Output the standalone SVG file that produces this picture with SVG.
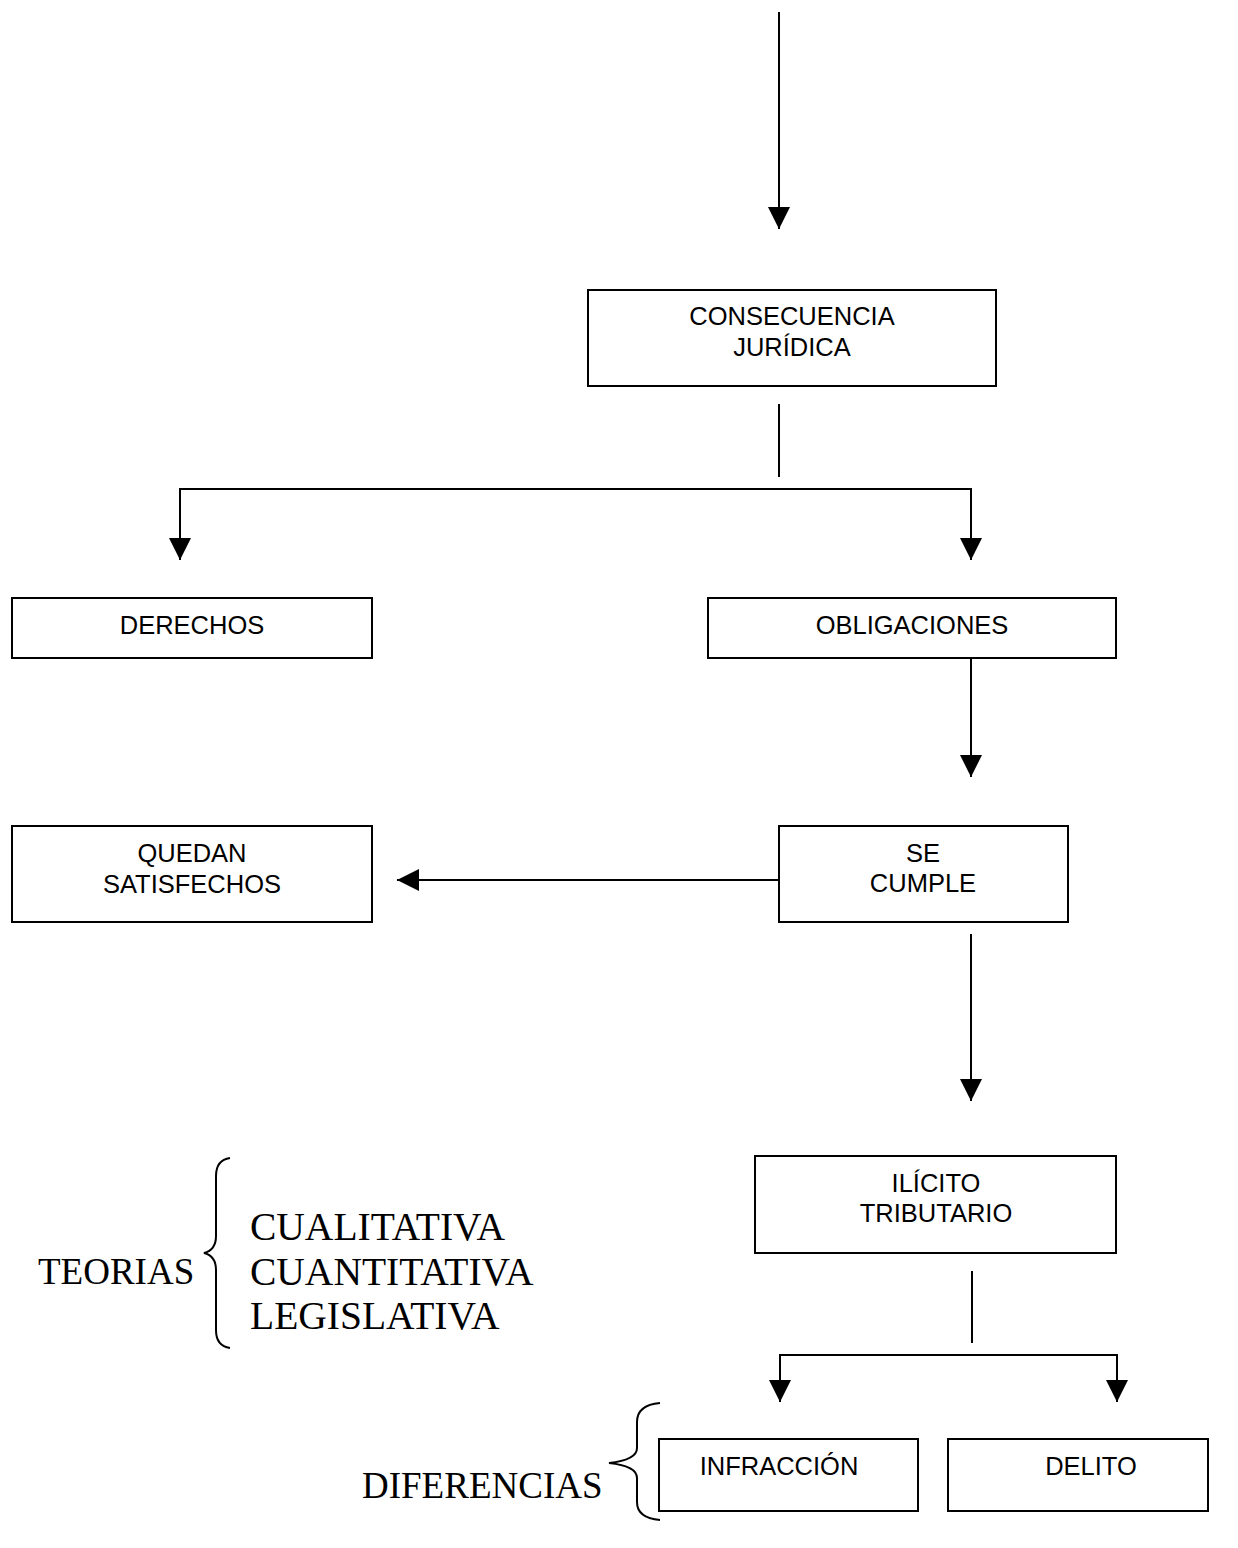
<svg xmlns="http://www.w3.org/2000/svg" width="1238" height="1548" viewBox="0 0 1238 1548">
  <style>
    .box { fill: #ffffff; stroke: #000000; stroke-width: 2; }
    .lbl { font-family: "Liberation Sans", Arial, sans-serif; font-size: 25.5px; fill: #000000; text-anchor: middle; }
    .serif { font-family: "Liberation Serif", "Times New Roman", serif; font-size: 37px; fill: #000000; }
    .item { font-size: 39.5px; }
    .wire { fill: none; stroke: #000000; stroke-width: 2; }
    .arrow { fill: none; stroke: #000000; stroke-width: 2; marker-end: url(#head); }
    .brace { fill: none; stroke: #000000; stroke-width: 2; }
  </style>
  <defs>
    <marker id="head" markerUnits="userSpaceOnUse" markerWidth="22" markerHeight="22" viewBox="0 0 20 20" refX="20" refY="10" orient="auto">
      <path d="M0,0 L20,10 L0,20 Z" fill="#000000"/>
    </marker>
  </defs>

  <!-- connectors -->
  <g id="connectors">
    <line class="arrow" x1="779" y1="12" x2="779" y2="229"/>
    <line class="wire" x1="779" y1="404" x2="779" y2="477"/>
    <polyline class="wire" points="180,540 180,489 971,489 971,540"/>
    <line class="arrow" x1="180" y1="489" x2="180" y2="560"/>
    <line class="arrow" x1="971" y1="489" x2="971" y2="560"/>
    <line class="arrow" x1="971" y1="657" x2="971" y2="777"/>
    <line class="arrow" x1="779" y1="880" x2="397" y2="880"/>
    <line class="arrow" x1="971" y1="934" x2="971" y2="1101"/>
    <line class="wire" x1="972" y1="1271" x2="972" y2="1343"/>
    <polyline class="wire" points="780,1385 780,1355 1117,1355 1117,1385"/>
    <line class="arrow" x1="780" y1="1355" x2="780" y2="1402"/>
    <line class="arrow" x1="1117" y1="1355" x2="1117" y2="1402"/>
  </g>

  <g id="consecuencia">
    <rect class="box" x="588" y="290" width="408" height="96"/>
    <text class="lbl" x="792" y="325">CONSECUENCIA</text>
    <text class="lbl" x="792" y="356">JURÍDICA</text>
  </g>

  <g id="derechos">
    <rect class="box" x="12" y="598" width="360" height="60"/>
    <text class="lbl" x="192" y="634">DERECHOS</text>
  </g>

  <g id="obligaciones">
    <rect class="box" x="708" y="598" width="408" height="60"/>
    <text class="lbl" x="912" y="634">OBLIGACIONES</text>
  </g>

  <g id="quedan-satisfechos">
    <rect class="box" x="12" y="826" width="360" height="96"/>
    <text class="lbl" x="192" y="862">QUEDAN</text>
    <text class="lbl" x="192" y="893">SATISFECHOS</text>
  </g>

  <g id="se-cumple">
    <rect class="box" x="779" y="826" width="289" height="96"/>
    <text class="lbl" x="923" y="862">SE</text>
    <text class="lbl" x="923" y="892">CUMPLE</text>
  </g>

  <g id="ilicito-tributario">
    <rect class="box" x="755" y="1156" width="361" height="97"/>
    <text class="lbl" x="936" y="1192">ILÍCITO</text>
    <text class="lbl" x="936" y="1222">TRIBUTARIO</text>
  </g>

  <g id="infraccion">
    <rect class="box" x="659" y="1439" width="259" height="72"/>
    <text class="lbl" x="779" y="1475">INFRACCIÓN</text>
  </g>

  <g id="delito">
    <rect class="box" x="948" y="1439" width="260" height="72"/>
    <text class="lbl" x="1091" y="1475">DELITO</text>
  </g>

  <g id="teorias">
    <text class="serif" x="38" y="1284">TEORIAS</text>
    <path class="brace" d="M230,1158 Q216,1160 216,1176 L216,1236 Q216,1250 204,1253 Q216,1256 216,1270 L216,1330 Q216,1346 230,1348"/>
    <text class="serif item" x="250" y="1240">CUALITATIVA</text>
    <text class="serif item" x="250" y="1285">CUANTITATIVA</text>
    <text class="serif item" x="250" y="1329">LEGISLATIVA</text>
  </g>

  <g id="diferencias">
    <text class="serif" x="362" y="1498">DIFERENCIAS</text>
    <path class="brace" d="M660,1403 Q637,1405 637,1422 L637,1448 Q637,1460 609,1463 Q637,1466 637,1478 L637,1502 Q637,1518 660,1520"/>
  </g>
</svg>
